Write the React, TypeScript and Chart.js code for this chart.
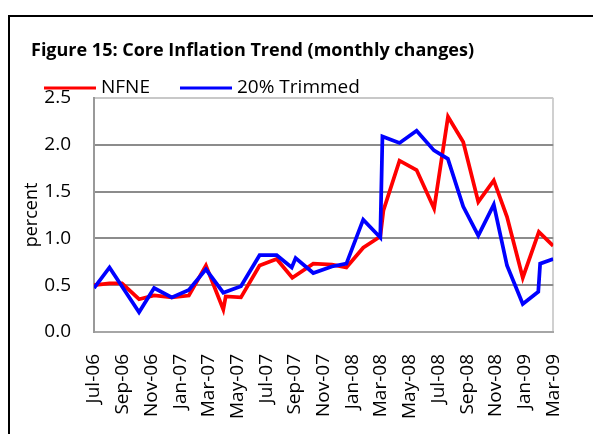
import React, { useEffect, useRef } from "react";
import { Chart, registerables } from "chart.js";

Chart.register(...registerables);

const titleText = "Figure 15: Core Inflation Trend (monthly changes)";
const yAxisTitle = "percent";

// x tick labels, every second month starting Jul-06 (month index 0)
const tickLabels = [
  "Jul-06", "Sep-06", "Nov-06", "Jan-07", "Mar-07", "May-07", "Jul-07", "Sep-07",
  "Nov-07", "Jan-08", "Mar-08", "May-08", "Jul-08", "Sep-08", "Nov-08", "Jan-09", "Mar-09",
];
const tickMonths = [0, 2, 4, 6, 8, 10, 12, 14, 16, 18, 20, 22, 24, 26, 28, 30, 32];

// NFNE series: x = months since Jul-06, y = percent
const nfneX = [0, 1.08, 1.95, 3.14, 4.19, 5.42, 6.61, 7.8, 9.01, 9.18, 10.24, 11.54, 12.73, 13.82, 15.28, 16.58, 17.59, 18.76, 19.95, 20.17, 21.29, 22.48, 23.7, 24.67, 25.73, 26.78, 27.86, 28.78, 29.88, 31.0, 32.0];
const nfneY = [0.5, 0.52, 0.52, 0.35, 0.39, 0.37, 0.39, 0.71, 0.24, 0.38, 0.37, 0.71, 0.78, 0.58, 0.73, 0.72, 0.69, 0.9, 1.02, 1.3, 1.83, 1.73, 1.32, 2.3, 2.03, 1.39, 1.62, 1.23, 0.58, 1.07, 0.92];

// 20% Trimmed series
const trimX = [0, 1.08, 3.14, 4.19, 5.42, 6.61, 7.8, 9.01, 10.24, 11.54, 12.73, 13.78, 14.05, 15.28, 16.58, 17.59, 18.76, 19.95, 20.1, 21.29, 22.48, 23.69, 24.66, 25.73, 26.78, 27.86, 28.78, 29.88, 30.96, 31.09, 32.0];
const trimY = [0.47, 0.69, 0.21, 0.47, 0.37, 0.45, 0.67, 0.42, 0.49, 0.82, 0.82, 0.69, 0.79, 0.63, 0.7, 0.73, 1.2, 1.01, 2.09, 2.02, 2.15, 1.94, 1.85, 1.34, 1.03, 1.36, 0.71, 0.3, 0.43, 0.73, 0.78];

const seriesNames = ["NFNE", "20% Trimmed"];
const seriesColors = ["#ff0000", "#0000ff"];

const FONT = "'Open Sans', sans-serif";

const headerPlugin = {
  id: "header",
  afterDraw(chart: any) {
    const ctx = chart.ctx;
    ctx.save();
    ctx.fillStyle = "#000";
    ctx.textAlign = "left";
    ctx.textBaseline = "middle";
    ctx.font = `bold 18px ${FONT}`;
    ctx.fillText(titleText, 21, 34);
    ctx.font = `19px ${FONT}`;
    const starts = [34, 170];
    chart.data.datasets.forEach((ds: any, i: number) => {
      const x0 = starts[i];
      ctx.strokeStyle = ds.borderColor;
      ctx.lineWidth = 3;
      ctx.beginPath();
      ctx.moveTo(x0, 71);
      ctx.lineTo(x0 + 52, 71);
      ctx.stroke();
      ctx.fillText(ds.label, x0 + 57, 71);
    });
    ctx.restore();
  },
};

export default function App() {
  const ref = useRef<HTMLCanvasElement | null>(null);

  useEffect(() => {
    document.documentElement.style.overflow = "hidden";
    if (!ref.current) return;
    Chart.defaults.font.family = FONT;
    const chart = new Chart(ref.current, {
      type: "line",
      data: {
        datasets: [
          {
            label: seriesNames[0],
            data: nfneX.map((x, i) => ({ x, y: nfneY[i] })),
            borderColor: seriesColors[0],
            backgroundColor: seriesColors[0],
            borderWidth: 3.75,
            pointRadius: 0,
            tension: 0,
            fill: false,
            order: 1,
          },
          {
            label: seriesNames[1],
            data: trimX.map((x, i) => ({ x, y: trimY[i] })),
            borderColor: seriesColors[1],
            backgroundColor: seriesColors[1],
            borderWidth: 3.75,
            pointRadius: 0,
            tension: 0,
            fill: false,
            order: 0,
          },
        ],
      },
      options: {
        animation: false,
        responsive: false,
        maintainAspectRatio: false,
        layout: { padding: { left: 0, right: 28, top: 81, bottom: 0 } },
        plugins: {
          legend: { display: false },
          title: { display: false },
          tooltip: { enabled: false },
        },
        scales: {
          x: {
            type: "linear",
            min: 0,
            max: 32,
            afterBuildTicks: (s: any) => {
              s.ticks = tickMonths.map((v) => ({ value: v }));
            },
            afterFit: (s: any) => {
              s.height = 102;
            },
            ticks: {
              autoSkip: false,
              minRotation: 90,
              maxRotation: 90,
              padding: 22,
              color: "#000",
              font: { size: 19, family: FONT },
              callback: (v: any) => {
                const idx = tickMonths.indexOf(Number(v));
                return idx >= 0 ? tickLabels[idx] : "";
              },
            },
            grid: {
              drawTicks: false,
              lineWidth: 2,
              color: (c: any) => (c.tick && c.tick.value === 32 ? "#d0d0d0" : "rgba(0,0,0,0)"),
            },
            border: { color: "#a6a6a6", width: 2 },
          },
          y: {
            min: 0,
            max: 2.5,
            afterFit: (s: any) => {
              s.width = 84;
            },
            ticks: {
              stepSize: 0.5,
              padding: 23,
              color: "#000",
              font: { size: 19, family: FONT },
              callback: (v: any) => Number(v).toFixed(1),
            },
            grid: {
              drawTicks: false,
              lineWidth: 2,
              color: (c: any) => {
                const v = c.tick ? c.tick.value : 0;
                if (v === 2.5) return "#c8c8c8";
                if (v === 0) return "#a6a6a6";
                return "#8c8c8c";
              },
            },
            border: { color: "#999999", width: 2 },
            title: {
              display: true,
              text: yAxisTitle,
              color: "#000",
              font: { size: 18, family: FONT },
              padding: { top: 11, bottom: 0 },
            },
          },
        },
      },
      plugins: [headerPlugin],
    });
    return () => chart.destroy();
  }, []);

  return (
    <div style={{ position: "relative", width: 593, height: 426, overflow: "hidden" }}>
      <div
        style={{
          position: "absolute",
          left: 0,
          top: 7,
          width: 600,
          height: 440,
          border: "2px solid #000",
          background: "#fff",
        }}
      >
        <canvas ref={ref} width={588} height={417} style={{ display: "block", width: 588, height: 417 }} />
      </div>
    </div>
  );
}
